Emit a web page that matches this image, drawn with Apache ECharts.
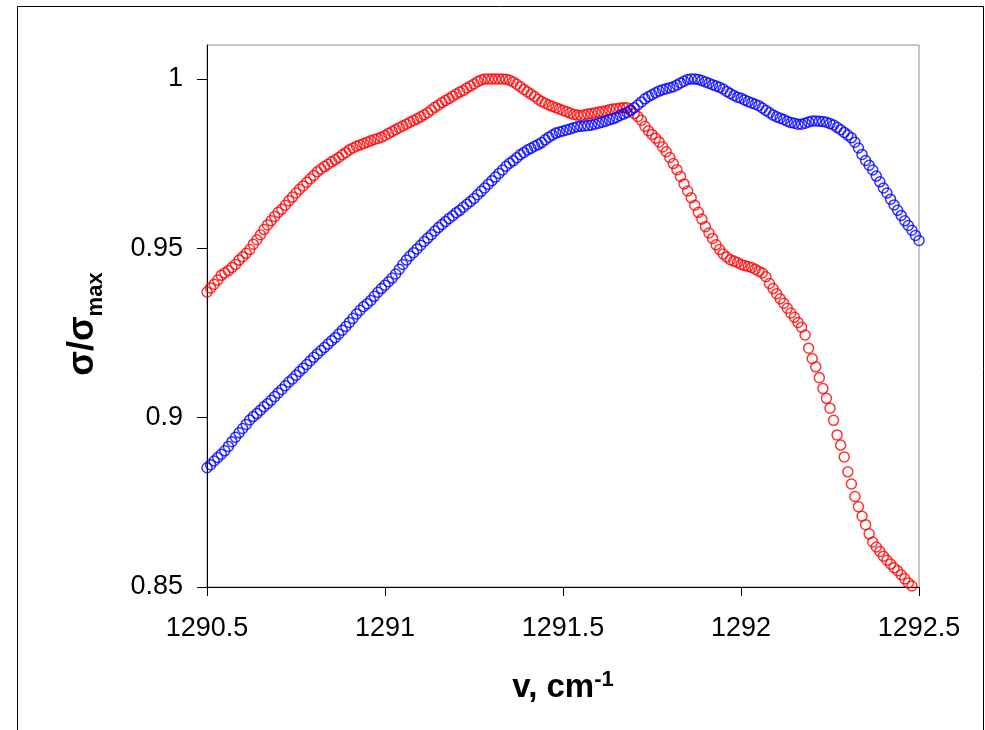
<!DOCTYPE html>
<html>
<head>
<meta charset="utf-8">
<script src="https://cdn.jsdelivr.net/npm/echarts@6/dist/echarts.min.js"></script>
<style>
html, body { margin: 0; padding: 0; background: #fff; }
#chart { width: 985px; height: 730px; }
</style>
</head>
<body>
<div id="chart"></div>
<script>
// wavenumber grid, cm-1
const wavenumber = [
    1290.50, 1290.51, 1290.52, 1290.53, 1290.54, 1290.55, 1290.56, 1290.57, 1290.58, 1290.59,
    1290.60, 1290.61, 1290.62, 1290.63, 1290.64, 1290.65, 1290.66, 1290.67, 1290.68, 1290.69,
    1290.70, 1290.71, 1290.72, 1290.73, 1290.74, 1290.75, 1290.76, 1290.77, 1290.78, 1290.79,
    1290.80, 1290.81, 1290.82, 1290.83, 1290.84, 1290.85, 1290.86, 1290.87, 1290.88, 1290.89,
    1290.90, 1290.91, 1290.92, 1290.93, 1290.94, 1290.95, 1290.96, 1290.97, 1290.98, 1290.99,
    1291.00, 1291.01, 1291.02, 1291.03, 1291.04, 1291.05, 1291.06, 1291.07, 1291.08, 1291.09,
    1291.10, 1291.11, 1291.12, 1291.13, 1291.14, 1291.15, 1291.16, 1291.17, 1291.18, 1291.19,
    1291.20, 1291.21, 1291.22, 1291.23, 1291.24, 1291.25, 1291.26, 1291.27, 1291.28, 1291.29,
    1291.30, 1291.31, 1291.32, 1291.33, 1291.34, 1291.35, 1291.36, 1291.37, 1291.38, 1291.39,
    1291.40, 1291.41, 1291.42, 1291.43, 1291.44, 1291.45, 1291.46, 1291.47, 1291.48, 1291.49,
    1291.50, 1291.51, 1291.52, 1291.53, 1291.54, 1291.55, 1291.56, 1291.57, 1291.58, 1291.59,
    1291.60, 1291.61, 1291.62, 1291.63, 1291.64, 1291.65, 1291.66, 1291.67, 1291.68, 1291.69,
    1291.70, 1291.71, 1291.72, 1291.73, 1291.74, 1291.75, 1291.76, 1291.77, 1291.78, 1291.79,
    1291.80, 1291.81, 1291.82, 1291.83, 1291.84, 1291.85, 1291.86, 1291.87, 1291.88, 1291.89,
    1291.90, 1291.91, 1291.92, 1291.93, 1291.94, 1291.95, 1291.96, 1291.97, 1291.98, 1291.99,
    1292.00, 1292.01, 1292.02, 1292.03, 1292.04, 1292.05, 1292.06, 1292.07, 1292.08, 1292.09,
    1292.10, 1292.11, 1292.12, 1292.13, 1292.14, 1292.15, 1292.16, 1292.17, 1292.18, 1292.19,
    1292.20, 1292.21, 1292.22, 1292.23, 1292.24, 1292.25, 1292.26, 1292.27, 1292.28, 1292.29,
    1292.30, 1292.31, 1292.32, 1292.33, 1292.34, 1292.35, 1292.36, 1292.37, 1292.38, 1292.39,
    1292.40, 1292.41, 1292.42, 1292.43, 1292.44, 1292.45, 1292.46, 1292.47, 1292.48, 1292.49,
    1292.50
];

// red curve, sigma / sigma max (ends at 1292.48)
const redSigma = [
    0.9371, 0.9383, 0.9394, 0.9406, 0.9420, 0.9427, 0.9434, 0.9443, 0.9452, 0.9465,
    0.9475, 0.9485, 0.9496, 0.9512, 0.9525, 0.9540, 0.9555, 0.9569, 0.9581, 0.9594,
    0.9606, 0.9615, 0.9627, 0.9640, 0.9651, 0.9663, 0.9674, 0.9684, 0.9695, 0.9705,
    0.9715, 0.9726, 0.9734, 0.9741, 0.9748, 0.9755, 0.9761, 0.9768, 0.9776, 0.9783,
    0.9791, 0.9796, 0.9801, 0.9805, 0.9809, 0.9813, 0.9817, 0.9821, 0.9824, 0.9828,
    0.9833, 0.9839, 0.9845, 0.9850, 0.9856, 0.9861, 0.9866, 0.9872, 0.9877, 0.9882,
    0.9888, 0.9894, 0.9900, 0.9908, 0.9916, 0.9923, 0.9930, 0.9936, 0.9942, 0.9949,
    0.9955, 0.9961, 0.9966, 0.9973, 0.9979, 0.9985, 0.9992, 0.9997, 1.0000, 1.0000,
    1.0000, 1.0000, 1.0000, 1.0000, 0.9999, 0.9996, 0.9991, 0.9984, 0.9977, 0.9969,
    0.9962, 0.9955, 0.9948, 0.9940, 0.9933, 0.9928, 0.9923, 0.9919, 0.9915, 0.9911,
    0.9907, 0.9903, 0.9899, 0.9895, 0.9893, 0.9892, 0.9894, 0.9896, 0.9898, 0.9900,
    0.9902, 0.9904, 0.9906, 0.9909, 0.9911, 0.9912, 0.9914, 0.9915, 0.9915, 0.9908,
    0.9898, 0.9889, 0.9878, 0.9860, 0.9847, 0.9836, 0.9825, 0.9814, 0.9799, 0.9785,
    0.9768, 0.9750, 0.9732, 0.9712, 0.9690, 0.9669, 0.9649, 0.9627, 0.9606, 0.9586,
    0.9564, 0.9545, 0.9529, 0.9510, 0.9496, 0.9483, 0.9474, 0.9466, 0.9462, 0.9458,
    0.9452, 0.9449, 0.9446, 0.9443, 0.9438, 0.9432, 0.9427, 0.9416, 0.9396, 0.9381,
    0.9366, 0.9351, 0.9338, 0.9323, 0.9309, 0.9296, 0.9281, 0.9267, 0.9244, 0.9205,
    0.9174, 0.9150, 0.9118, 0.9086, 0.9057, 0.9028, 0.8992, 0.8949, 0.8919, 0.8884,
    0.8840, 0.8804, 0.8767, 0.8737, 0.8709, 0.8684, 0.8657, 0.8633, 0.8618, 0.8605,
    0.8591, 0.8579, 0.8568, 0.8557, 0.8548, 0.8536, 0.8524, 0.8512, 0.8503
];

// blue curve, sigma / sigma max
const blueSigma = [
    0.8852, 0.8861, 0.8872, 0.8882, 0.8892, 0.8902, 0.8915, 0.8929, 0.8942, 0.8955,
    0.8968, 0.8980, 0.8993, 0.9003, 0.9012, 0.9022, 0.9032, 0.9041, 0.9051, 0.9062,
    0.9073, 0.9083, 0.9094, 0.9105, 0.9114, 0.9125, 0.9136, 0.9146, 0.9157, 0.9168,
    0.9178, 0.9188, 0.9198, 0.9207, 0.9217, 0.9227, 0.9236, 0.9247, 0.9258, 0.9269,
    0.9281, 0.9293, 0.9306, 0.9317, 0.9328, 0.9336, 0.9346, 0.9358, 0.9370, 0.9381,
    0.9391, 0.9401, 0.9412, 0.9424, 0.9438, 0.9452, 0.9465, 0.9477, 0.9487, 0.9498,
    0.9509, 0.9520, 0.9530, 0.9540, 0.9551, 0.9561, 0.9570, 0.9579, 0.9588, 0.9596,
    0.9605, 0.9612, 0.9621, 0.9630, 0.9638, 0.9647, 0.9658, 0.9668, 0.9678, 0.9689,
    0.9699, 0.9710, 0.9721, 0.9731, 0.9742, 0.9751, 0.9758, 0.9767, 0.9776, 0.9783,
    0.9790, 0.9795, 0.9801, 0.9806, 0.9812, 0.9820, 0.9828, 0.9834, 0.9840, 0.9843,
    0.9846, 0.9849, 0.9852, 0.9856, 0.9859, 0.9860, 0.9861, 0.9862, 0.9864, 0.9866,
    0.9869, 0.9872, 0.9875, 0.9879, 0.9882, 0.9886, 0.9892, 0.9896, 0.9901, 0.9907,
    0.9915, 0.9923, 0.9932, 0.9941, 0.9948, 0.9953, 0.9959, 0.9964, 0.9968, 0.9971,
    0.9974, 0.9977, 0.9982, 0.9988, 0.9993, 0.9998, 1.0000, 1.0000, 0.9998, 0.9995,
    0.9991, 0.9987, 0.9983, 0.9979, 0.9975, 0.9970, 0.9963, 0.9957, 0.9951, 0.9946,
    0.9943, 0.9938, 0.9933, 0.9929, 0.9925, 0.9921, 0.9914, 0.9907, 0.9900, 0.9893,
    0.9888, 0.9884, 0.9880, 0.9875, 0.9871, 0.9869, 0.9866, 0.9866, 0.9869, 0.9873,
    0.9876, 0.9876, 0.9875, 0.9874, 0.9872, 0.9868, 0.9864, 0.9857, 0.9850, 0.9842,
    0.9834, 0.9826, 0.9813, 0.9796, 0.9777, 0.9759, 0.9745, 0.9731, 0.9713, 0.9696,
    0.9678, 0.9663, 0.9645, 0.9628, 0.9612, 0.9597, 0.9581, 0.9567, 0.9553, 0.9538,
    0.9523
];

const yTicks = [0.85, 0.9, 0.95, 1];

function toPoints(values){
    return values.map(function(v, i){ return [wavenumber[i], v]; });
}

const chart = echarts.init(document.getElementById("chart"));

const font = "'Liberation Sans', Arial, sans-serif";

const option = {
    animation: false,
    backgroundColor: "#fff",
    // outer frame of the figure
    graphic: [{
        type: "rect",
        z: -10,
        shape: { x: 17.5, y: 6.5, width: 966, height: 760 },
        style: { fill: "none", stroke: "#000", lineWidth: 1 }
    }],
    grid: {
        left: 207, right: 66, top: 45, bottom: 143,
        show: true,
        borderColor: "#8c8c8c",
        borderWidth: 1
    },
    xAxis: {
        type: "value",
        min: 1290.5,
        max: 1292.5,
        interval: 0.5,
        splitLine: { show: false },
        axisLine: { lineStyle: { color: "#000", width: 1 } },
        axisTick: { inside: false, length: 9, lineStyle: { color: "#000" } },
        axisLabel: {
            color: "#000", fontSize: 27, fontFamily: font, margin: 28,
            // plain numbers, no thousands separator
            formatter: function(v){ return String(v); }
        },
        name: "{a|v, cm}{b|-1}",
        nameLocation: "middle",
        nameGap: 82,
        nameTextStyle: {
            rich: {
                a: { fontSize: 33, fontWeight: "bold", fontFamily: font, color: "#000", lineHeight: 38 },
                b: { fontSize: 22, fontWeight: "bold", fontFamily: font, color: "#000", lineHeight: 22, verticalAlign: "top" }
            }
        }
    },
    yAxis: {
        type: "value",
        min: 0.85,
        max: 1.01,
        interval: 0.05,
        splitLine: { show: false },
        axisLine: { show: true, lineStyle: { color: "#000", width: 1 } },
        axisTick: { show: true, inside: false, length: 10, customValues: yTicks, lineStyle: { color: "#000" } },
        axisLabel: {
            color: "#000", fontSize: 27, fontFamily: font, margin: 24, customValues: yTicks,
            formatter: function(v){ return String(v); }
        },
        name: "{s|σ/σ}{m|max}",
        nameLocation: "middle",
        nameGap: 100,
        nameTextStyle: {
            padding: [0, 16, 0, 0],
            rich: {
                s: { fontSize: 36, fontWeight: "bold", fontFamily: font, color: "#000", lineHeight: 48 },
                m: { fontSize: 22, fontWeight: "bold", fontFamily: font, color: "#000", lineHeight: 16, verticalAlign: "bottom" }
            }
        }
    },
    series: [
        {
            name: "red",
            type: "scatter",
            symbol: "circle",
            symbolSize: 10,
            itemStyle: { color: "rgba(0,0,0,0)", borderColor: "#ff0000", borderWidth: 1.5 },
            data: toPoints(redSigma)
        },
        {
            name: "blue",
            type: "scatter",
            symbol: "circle",
            symbolSize: 10,
            itemStyle: { color: "rgba(0,0,0,0)", borderColor: "#0000ff", borderWidth: 1.5 },
            data: toPoints(blueSigma)
        }
    ]
};

chart.setOption(option);
</script>
</body>
</html>
